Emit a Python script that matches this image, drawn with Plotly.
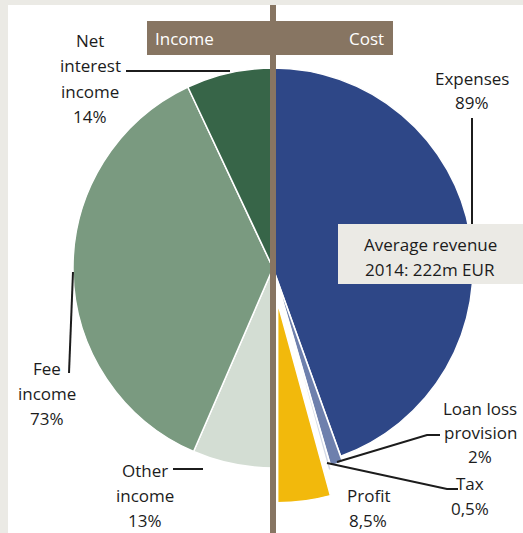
import plotly.graph_objects as go

W, H = 523, 533

# Income side (left half of the pie), shares in percent
income_labels = ["Other income", "Fee income", "Net interest income"]
income_shares = [13, 73, 14]
income_colors = ["#d3ddd3", "#7a9a80", "#376548"]

# Cost side (right half of the pie), shares in percent
cost_labels = ["Expenses", "Loan loss provision", "Tax", "Profit"]
cost_shares = [89, 2, 0.5, 8.5]
cost_colors = ["#2e4787", "#6e80ad", "#d3d9e6", "#f2b90c"]
cost_pull = [0, 0.03, 0.05, 0.175]

# Each side fills exactly one half of the circle
labels = cost_labels + income_labels
values = [v / 2 for v in cost_shares] + [v / 2 for v in income_shares]
colors = cost_colors + income_colors
pulls = cost_pull + [0, 0, 0]

BROWN = "#877562"
FRAME = "#ebeae5"
INK = "#1c1c1c"
FONT = "Open Sans"


def px(x):
    return x / W


def py(y):
    return 1 - y / H


# pie box sized so the radius stays 200px after the pull allowance
cx, cy, r = 273, 268, 200
half = r * (1 + max(pulls))

fig = go.Figure(
    go.Pie(
        labels=labels,
        values=values,
        sort=False,
        direction="clockwise",
        rotation=0,
        pull=pulls,
        marker=dict(colors=colors, line=dict(color="white", width=1.5)),
        textinfo="none",
        hoverinfo="label+percent",
        showlegend=False,
        domain=dict(
            x=[px(cx - half), px(cx + half)],
            y=[py(cy + half), py(cy - half)],
        ),
    )
)

shapes = []
# light frame along the top and left edges
shapes.append(dict(type="rect", xref="paper", yref="paper", x0=0, x1=1,
                   y0=py(5), y1=1, fillcolor=FRAME, line_width=0, layer="below"))
shapes.append(dict(type="rect", xref="paper", yref="paper", x0=0, x1=px(8),
                   y0=0, y1=1, fillcolor=FRAME, line_width=0, layer="below"))
# centre divider
shapes.append(dict(type="rect", xref="paper", yref="paper", x0=px(270), x1=px(276),
                   y0=0, y1=py(5), fillcolor=BROWN, line_width=0, layer="above"))
# header bar
shapes.append(dict(type="rect", xref="paper", yref="paper", x0=px(147), x1=px(393),
                   y0=py(55), y1=py(21), fillcolor=BROWN, line_width=0, layer="above"))
# revenue box
shapes.append(dict(type="rect", xref="paper", yref="paper", x0=px(338), x1=1,
                   y0=py(284), y1=py(224), fillcolor=FRAME, line_width=0, layer="above"))


def leader(points):
    path = "M " + " L ".join(f"{px(x)},{py(y)}" for x, y in points)
    shapes.append(dict(type="path", xref="paper", yref="paper", path=path,
                       line=dict(color=INK, width=2), layer="above"))


leader([(126, 71), (230, 71)])               # net interest income
leader([(472, 118), (472, 224)])             # expenses
leader([(73, 272), (69, 373)])               # fee income
leader([(173, 469), (203, 469)])             # other income
leader([(337, 462), (427, 435), (440, 435)])  # loan loss provision
leader([(327, 463), (447, 489), (458, 489)])  # tax

annotations = []


def label(x, ys, lines, color=INK, size=17, anchor="center"):
    for y, t in zip(ys, lines):
        annotations.append(dict(xref="paper", yref="paper", x=px(x), y=py(y),
                                text=t, showarrow=False, xanchor=anchor,
                                yanchor="middle",
                                font=dict(family=FONT, size=size, color=color)))


label(90, [40, 66, 91, 116], ["Net", "interest", "income", f"{income_shares[2]}%"])
label(472, [78, 102], ["Expenses", f"{cost_shares[0]}%"])
label(47, [368, 393, 418], ["Fee", "income", f"{income_shares[1]}%"])
label(145, [470, 495, 520], ["Other", "income", f"{income_shares[0]}%"])
label(480, [408, 432, 456], ["Loan loss", "provision", f"{cost_shares[1]}%"])
label(470, [483, 508], ["Tax", f"{cost_shares[2]}%".replace(".", ",")])
label(368, [495, 520], ["Profit", f"{cost_shares[3]}%".replace(".", ",")])
label(430, [244, 269], ["Average revenue", "2014: 222m EUR"])

# header captions
label(153, [38], ["Income"], color="white", anchor="left")
label(386, [38], ["Cost"], color="white", anchor="right")

fig.update_layout(
    width=W, height=H,
    margin=dict(l=0, r=0, t=0, b=0),
    paper_bgcolor="white",
    plot_bgcolor="white",
    shapes=shapes,
    annotations=annotations,
)

fig.write_html("out.html")
